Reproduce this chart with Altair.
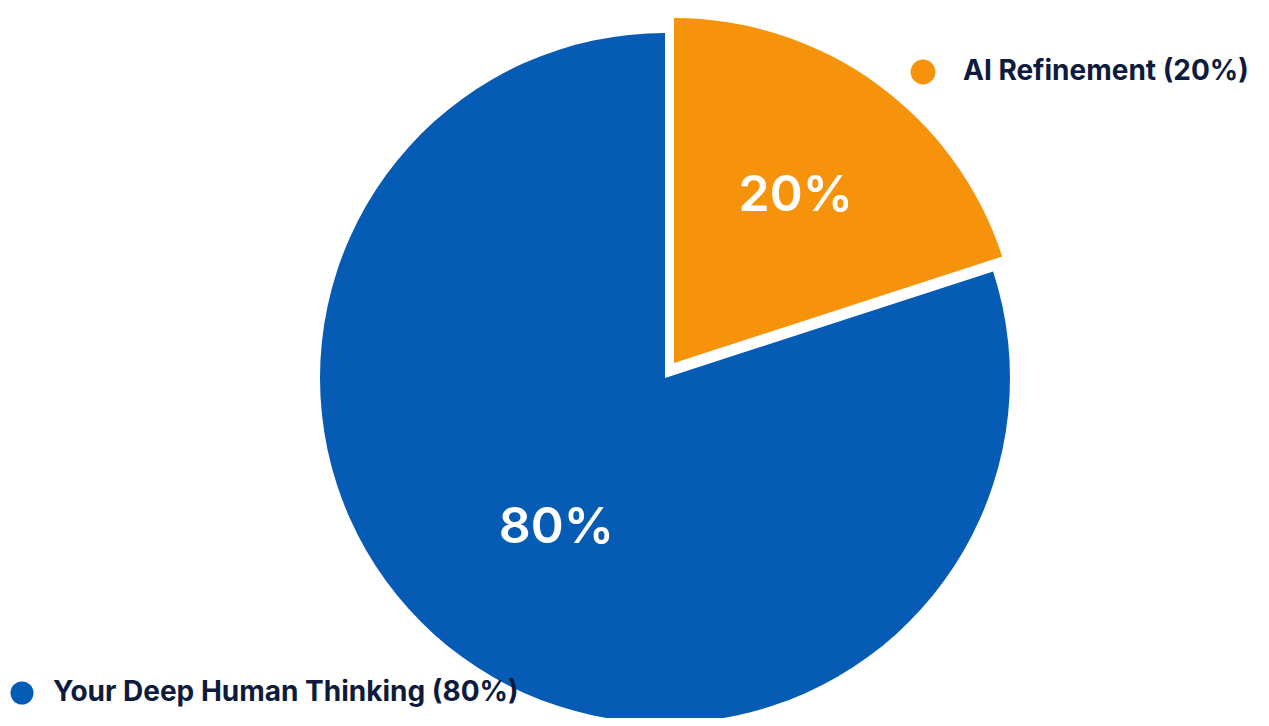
import altair as alt
import pandas as pd

categories = ["AI Refinement", "Your Deep Human Thinking"]
values = [20, 80]
labels = ["20%", "80%"]
legend_labels = ["AI Refinement (20%)", "Your Deep Human Thinking (80%)"]
colors = ["#F7930B", "#065BB4"]
order = [0, 1]

df = pd.DataFrame({
    "category": categories,
    "value": values,
    "label": labels,
    "legend": legend_labels,
    "order": order,
})

color_scale = alt.Scale(domain=categories, range=colors)

base = alt.Chart(df).transform_window(
    cum="sum(value)", sort=[alt.SortField("order")], frame=[None, 0]
).transform_calculate(
    start="datum.cum - datum.value",
    mid="datum.cum - datum.value / 2",
)

theta_scale = alt.Scale(domain=[0, 100], range=[0, 6.283185307])

R = 345
blue_center = dict(x=alt.value(657), y=alt.value(370))
orange_center = dict(x=alt.value(666), y=alt.value(355))

blue_arc = base.transform_filter(alt.datum.category == categories[1]).mark_arc(
    radius=R, stroke=None
).encode(
    theta=alt.Theta("start:Q", scale=theta_scale),
    theta2="cum:Q",
    color=alt.Color("category:N", scale=color_scale, legend=None),
    **blue_center,
)

orange_arc = base.transform_filter(alt.datum.category == categories[0]).mark_arc(
    radius=R, stroke=None
).encode(
    theta=alt.Theta("start:Q", scale=theta_scale),
    theta2="cum:Q",
    color=alt.Color("category:N", scale=color_scale, legend=None),
    **orange_center,
)

blue_text = base.transform_filter(alt.datum.category == categories[1]).mark_text(
    font="Inter", fontSize=50, fontWeight=600, color="white", align="center", baseline="middle"
).encode(
    theta=alt.Theta("mid:Q", scale=theta_scale),
    radius=alt.value(185),
    text="label:N",
    **blue_center,
)

orange_text = base.transform_filter(alt.datum.category == categories[0]).mark_text(
    font="Inter", fontSize=50, fontWeight=600, color="white", align="center", baseline="middle"
).encode(
    theta=alt.Theta("mid:Q", scale=theta_scale),
    radius=alt.value(207),
    text="label:N",
    **orange_center,
)

leg_orange = alt.Chart(df).transform_filter(alt.datum.category == categories[0])
leg_blue = alt.Chart(df).transform_filter(alt.datum.category == categories[1])

leg_dot_o = leg_orange.mark_circle(size=615, opacity=1).encode(
    x=alt.value(915), y=alt.value(64),
    color=alt.Color("category:N", scale=color_scale, legend=None),
)
leg_txt_o = leg_orange.mark_text(
    font="Inter", fontSize=28, fontWeight="bold", color="#0E1B3D", align="left", baseline="middle"
).encode(x=alt.value(955), y=alt.value(64), text="legend:N")

leg_dot_b = leg_blue.mark_circle(size=530, opacity=1).encode(
    x=alt.value(14), y=alt.value(685),
    color=alt.Color("category:N", scale=color_scale, legend=None),
)
leg_txt_b = leg_blue.mark_text(
    font="Inter", fontSize=28, fontWeight="bold", color="#0E1B3D", align="left", baseline="middle"
).encode(x=alt.value(45), y=alt.value(685), text="legend:N")

chart = alt.layer(
    blue_arc, orange_arc, blue_text, orange_text,
    leg_dot_o, leg_txt_o, leg_dot_b, leg_txt_b,
).properties(
    width=1253, height=710, padding=0, autosize=alt.AutoSizeParams(type="none"),
    background="white",
).configure_view(stroke=None)

chart.save("out.html", embed_options={"renderer": "svg", "actions": False})
